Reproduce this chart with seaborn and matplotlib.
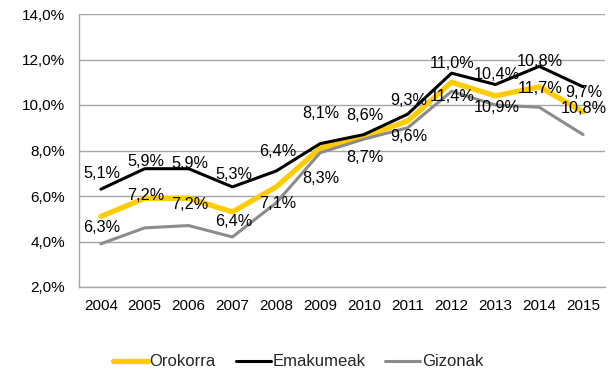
import matplotlib
matplotlib.use("Agg")
import matplotlib.pyplot as plt
import seaborn as sns
import pandas as pd

years = ["2004", "2005", "2006", "2007", "2008", "2009",
         "2010", "2011", "2012", "2013", "2014", "2015"]
orokorra = [5.1, 5.9, 5.9, 5.3, 6.4, 8.1, 8.6, 9.3, 11.0, 10.4, 10.8, 9.7]
emakumeak = [6.3, 7.2, 7.2, 6.4, 7.1, 8.3, 8.7, 9.6, 11.4, 10.9, 11.7, 10.8]
gizonak = [3.9, 4.6, 4.7, 4.2, 5.7, 7.9, 8.5, 9.0, 10.6, 10.0, 9.9, 8.7]
y_ticks = [2, 4, 6, 8, 10, 12, 14]

# vertical label offsets in pixels (negative = above the point)
orokorra_label_dy = [-43, -37, -35, -37, -35, -35, -21, -20, -19, -21, -25, -19]
emakumeak_label_dy = [38, 27, 36, 35, 33, 35, 23, 22, 23, 23, 22, 22]

sns.set_theme(style="white")
plt.rcParams["font.family"] = ["Liberation Sans", "DejaVu Sans"]

fig = plt.figure(figsize=(6.14, 3.71), dpi=100)
fig.subplots_adjust(left=79 / 614, right=605 / 614, top=1 - 14 / 371, bottom=1 - 287 / 371)
ax = fig.add_subplot(111)

series = [
    ("Orokorra", orokorra, "#FFCC00", 3.8),
    ("Emakumeak", emakumeak, "#000000", 2.2),
    ("Gizonak", gizonak, "#8C8C8C", 2.2),
]
for name, vals, color, lw in series:
    df = pd.DataFrame({"urtea": years, "balioa": vals})
    sns.lineplot(data=df, x="urtea", y="balioa", ax=ax, color=color,
                 linewidth=lw, label=name, sort=False, zorder=3)

def pct(v):
    return f"{v:.1f}%".replace(".", ",")

for i, (v, dy) in enumerate(zip(orokorra, orokorra_label_dy)):
    ax.annotate(pct(v), (i, v), xytext=(1, -dy), textcoords="offset pixels",
                ha="center", va="center", fontsize=11.7, color="#000000", zorder=4)
for i, (v, dy) in enumerate(zip(emakumeak, emakumeak_label_dy)):
    ax.annotate(pct(v), (i, v), xytext=(1, -dy), textcoords="offset pixels",
                ha="center", va="center", fontsize=11.7, color="#000000", zorder=4)

ax.set_xlim(-0.5, len(years) - 0.5)
ax.set_ylim(2, 14)
ax.set_yticks(y_ticks)
ax.set_yticklabels([f"{t:.1f}%".replace(".", ",") for t in y_ticks])
ax.set_xlabel("")
ax.set_ylabel("")
ax.yaxis.grid(True, color="#A6A6A6", linewidth=1.0)
ax.xaxis.grid(False)
ax.set_axisbelow(True)
for side in ["top", "right"]:
    ax.spines[side].set_visible(False)
for side in ["left", "bottom"]:
    ax.spines[side].set_color("#A6A6A6")
    ax.spines[side].set_linewidth(1.0)
ax.tick_params(axis="both", length=0, labelsize=11, colors="#000000")
ax.tick_params(axis="y", pad=10)
ax.tick_params(axis="x", pad=9)

ax.legend(loc="center", bbox_to_anchor=(298 / 614, 1 - 362 / 371),
          bbox_transform=fig.transFigure, ncol=3, frameon=False,
          fontsize=12, handlelength=2.1, handletextpad=0.1, columnspacing=1.2)

fig.savefig("out.png", dpi=100)
